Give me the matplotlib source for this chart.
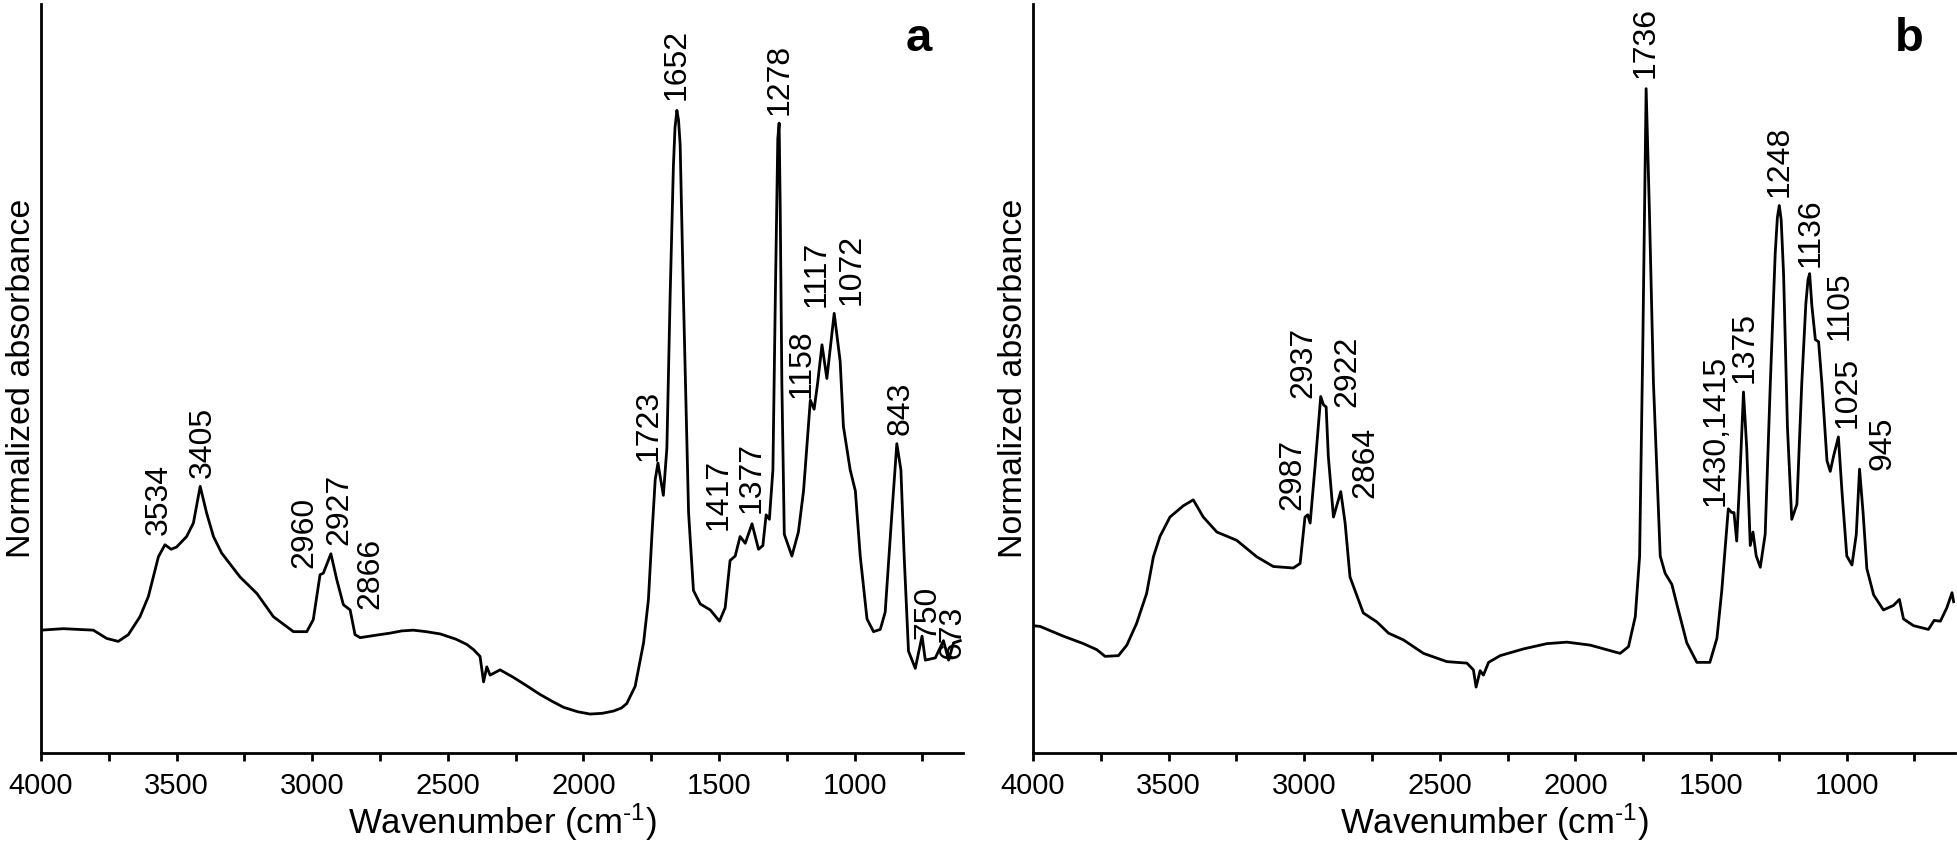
import matplotlib
matplotlib.use("Agg")
import matplotlib.pyplot as plt
from matplotlib.ticker import MultipleLocator

plt.rcParams['font.family'] = ['Liberation Sans', 'DejaVu Sans']
plt.rcParams['mathtext.fontset'] = 'custom'
plt.rcParams['mathtext.rm'] = 'Liberation Sans'
plt.rcParams['mathtext.it'] = 'Liberation Sans'

# ---------------- Panel a ----------------
wn_a = [4000, 3918, 3807, 3758, 3715, 3678, 3635, 3604, 3567, 3543, 3520, 3500, 3463, 3438,
        3413, 3389, 3364, 3334, 3266, 3204, 3143, 3069, 3020, 2996, 2971, 2959, 2931,
        2909, 2885, 2860, 2842, 2823, 2770, 2713, 2670, 2627, 2580, 2528, 2470, 2430, 2405,
        2381, 2368, 2356, 2344, 2307, 2258, 2210, 2159, 2115, 2073, 2020, 1975, 1930, 1889,
        1860, 1840, 1809, 1778, 1760, 1747, 1735, 1725,
        1705, 1692, 1680, 1668, 1662, 1655, 1649, 1643, 1631, 1612, 1594, 1569, 1532,
        1498, 1477, 1459, 1440, 1422, 1403, 1378, 1354, 1338, 1326, 1314, 1301, 1292,
        1283, 1278, 1274, 1268, 1259, 1231, 1207, 1188, 1163, 1149, 1136, 1120, 1102,
        1075, 1053, 1041, 1016, 997, 979, 954, 930, 905, 887, 862, 844, 829, 817, 801,
        776, 751, 739, 702, 672, 653, 635, 610]
abs_a = [0.164, 0.166, 0.164, 0.153, 0.149, 0.158, 0.182, 0.209, 0.262, 0.278, 0.272, 0.275, 0.289, 0.307,
         0.356, 0.320, 0.289, 0.267, 0.235, 0.213, 0.182, 0.162, 0.162, 0.178, 0.238, 0.240, 0.266,
         0.231, 0.198, 0.191, 0.158, 0.154, 0.157, 0.160, 0.163, 0.164, 0.162, 0.159, 0.152, 0.145, 0.138,
         0.129, 0.095, 0.115, 0.104, 0.111, 0.101, 0.090, 0.078, 0.069, 0.061, 0.055, 0.052, 0.053, 0.056,
         0.060, 0.066, 0.089, 0.147, 0.205, 0.292, 0.365, 0.387,
         0.344, 0.407, 0.610, 0.783, 0.835, 0.858, 0.845, 0.812, 0.610, 0.321, 0.217, 0.199, 0.191,
         0.176, 0.194, 0.257, 0.263, 0.289, 0.280, 0.306, 0.272, 0.277, 0.318, 0.312, 0.378, 0.610,
         0.820, 0.841, 0.725, 0.494, 0.292, 0.263, 0.295, 0.350, 0.471, 0.459, 0.494, 0.545, 0.500,
         0.587, 0.523, 0.436, 0.378, 0.350, 0.263, 0.179, 0.162, 0.165, 0.188, 0.321, 0.413, 0.378,
         0.263, 0.136, 0.113, 0.156, 0.124, 0.127, 0.150, 0.124, 0.147, 0.150]

labels_a = ["3534", "3405", "2960", "2927", "2866", "1723", "1652", "1278", "1417", "1377",
            "1158", "1117", "1072", "843", "750", "673"]
lab_x_a = [3564, 3405, 3030, 2901, 2784, 1760, 1655, 1278, 1502, 1378,
           1194, 1139, 1010, 829, 733, 640]
lab_y_a = [0.291, 0.367, 0.247, 0.278, 0.192, 0.390, 0.872, 0.852, 0.298, 0.320,
           0.474, 0.595, 0.598, 0.425, 0.152, 0.125]

# ---------------- Panel b ----------------
wn_b = [4000, 3974, 3888, 3814, 3765, 3734, 3685, 3654, 3618, 3581, 3556, 3532, 3495, 3446,
        3409, 3372, 3322, 3249, 3175, 3114, 3040, 3015, 2997, 2987, 2978, 2960, 2939, 2929,
        2919, 2911, 2892, 2865, 2849, 2831, 2782, 2732, 2689, 2634, 2560, 2474, 2400, 2376,
        2366, 2351, 2339, 2320, 2277, 2191, 2105, 2031, 1945, 1835, 1804, 1779, 1763, 1751,
        1739, 1727, 1712, 1687, 1669, 1644, 1626, 1589, 1552, 1504, 1478, 1460, 1436, 1423,
        1415, 1405, 1392, 1380, 1368, 1355, 1345, 1333, 1318, 1300, 1281, 1263, 1255, 1248, 1241,
        1232, 1218, 1202, 1183, 1165, 1150, 1142, 1136, 1128, 1115, 1103, 1091, 1072, 1060, 1048,
        1030, 1017, 999, 980, 964, 952, 939, 925, 900, 864, 827, 805, 790, 753, 698, 677, 654,
        630, 611, 605]
abs_b = [0.170, 0.169, 0.156, 0.146, 0.138, 0.129, 0.130, 0.144, 0.173, 0.213, 0.262, 0.289, 0.315, 0.330,
         0.338, 0.315, 0.295, 0.284, 0.262, 0.249, 0.247, 0.253, 0.315, 0.318, 0.307, 0.382, 0.476, 0.465,
         0.462, 0.396, 0.315, 0.349, 0.307, 0.235, 0.187, 0.175, 0.160, 0.151, 0.133, 0.122, 0.120, 0.111,
         0.088, 0.110, 0.104, 0.121, 0.130, 0.139, 0.146, 0.148, 0.144, 0.133, 0.142, 0.182, 0.263, 0.552,
         0.887, 0.725, 0.494, 0.263, 0.240, 0.225, 0.199, 0.147, 0.121, 0.121, 0.153, 0.217, 0.326, 0.321,
         0.321, 0.283, 0.379, 0.482, 0.407, 0.277, 0.295, 0.263, 0.248, 0.292, 0.494, 0.667, 0.715, 0.731, 0.712,
         0.638, 0.436, 0.312, 0.332, 0.494, 0.600, 0.632, 0.640, 0.598, 0.552, 0.549, 0.494, 0.390, 0.376, 0.396,
         0.422, 0.350, 0.263, 0.251, 0.292, 0.379, 0.321, 0.246, 0.211, 0.191, 0.197, 0.205, 0.179, 0.170,
         0.165, 0.177, 0.176, 0.194, 0.214, 0.202]

labels_b = ["2987", "2937", "2922", "2864", "1736", "1430,1415", "1375", "1248", "1136",
            "1105", "1025", "945"]
lab_x_b = [3044, 3003, 2841, 2774, 1740, 1484, 1377, 1248, 1131, 1027, 996, 867]
lab_y_b = [0.324, 0.474, 0.462, 0.340, 0.901, 0.330, 0.494, 0.742, 0.649, 0.552, 0.434, 0.378]

panel_letters = ["a", "b"]
x_ticks = [4000, 3500, 3000, 2500, 2000, 1500, 1000]

fig = plt.figure(figsize=(19.58, 8.52), dpi=100)
ax_a = fig.add_axes([41 / 1958, 99 / 852, 922 / 1958, 749 / 852])
ax_b = fig.add_axes([1033 / 1958, 99 / 852, 922 / 1958, 749 / 852])

panels = [
    (ax_a, wn_a, abs_a, labels_a, lab_x_a, lab_y_a, panel_letters[0], 0.952),
    (ax_b, wn_b, abs_b, labels_b, lab_x_b, lab_y_b, panel_letters[1], 0.950),
]

for ax, wn, ab, labs, lx, ly, letter, letter_x in panels:
    ax.plot(wn, ab, color='black', lw=2.0, solid_joinstyle='round')
    ax.set_xlim(4000, 600)
    ax.set_ylim(0, 1)
    for s in ['top', 'right']:
        ax.spines[s].set_visible(False)
    for s in ['left', 'bottom']:
        ax.spines[s].set_linewidth(2.0)
    ax.set_yticks([])
    ax.set_xticks(x_ticks)
    ax.set_xticklabels([str(t) for t in x_ticks], fontsize=21)
    ax.xaxis.set_minor_locator(MultipleLocator(250))
    ax.tick_params(axis='x', which='major', direction='out', length=6, width=2, pad=8)
    ax.tick_params(axis='x', which='minor', direction='out', length=6, width=2)
    ax.set_xlabel('Wavenumber (cm$^{\u2010 1}$)', fontsize=25, labelpad=1)
    ax.set_ylabel('Normalized absorbance', fontsize=24.5, labelpad=3)
    for t, x, y in zip(labs, lx, ly):
        ax.text(x, y, t, rotation=90, ha='center', va='bottom', fontsize=23)
    ax.text(letter_x, 0.937, letter, transform=ax.transAxes, ha='center', va='baseline',
            fontsize=34, fontweight='bold')

fig.savefig('out.png', dpi=100)
